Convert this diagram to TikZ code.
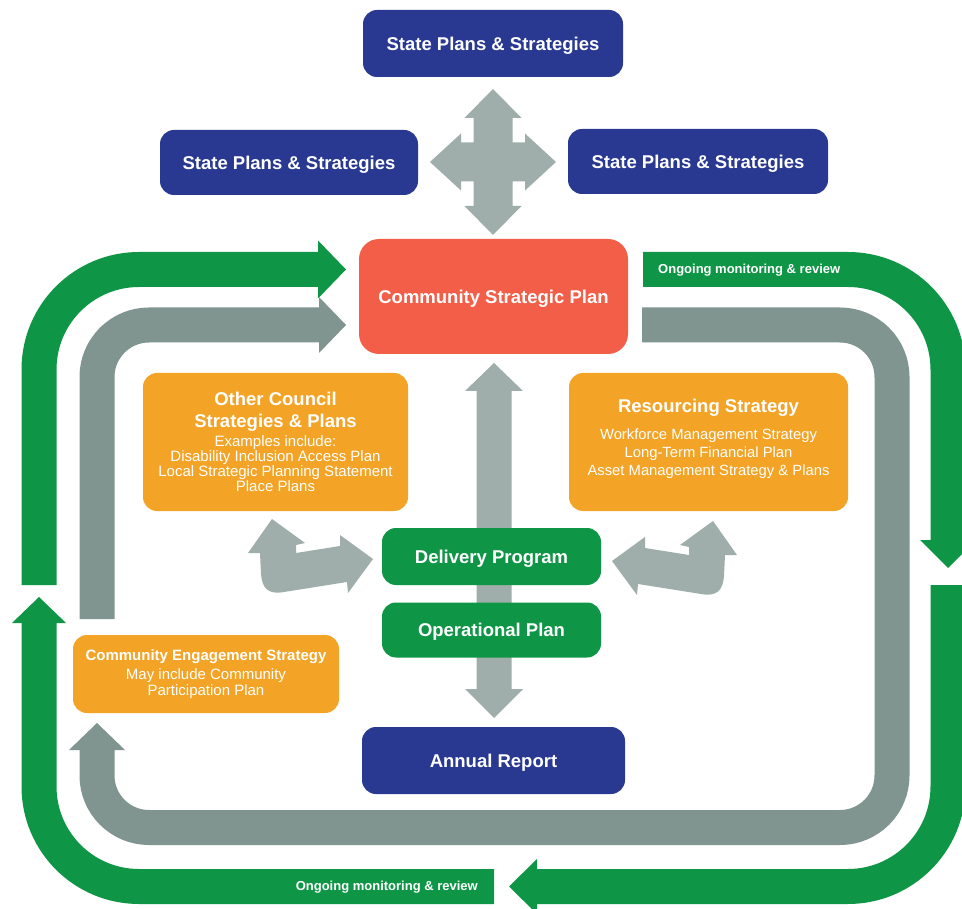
\documentclass[tikz,border=0pt]{standalone}
\usepackage{fontspec}
\setmainfont{Liberation Sans}
\definecolor{navy}{RGB}{41,57,145}
\definecolor{salmon}{RGB}{242,94,71}
\definecolor{orng}{RGB}{243,163,37}
\definecolor{grn}{RGB}{14,150,70}
\definecolor{bandgray}{RGB}{128,148,144}
\definecolor{lgray}{RGB}{159,174,170}
\newcommand{\mylsfix}{\lineskiplimit -100pt\relax}
\begin{document}
\begin{tikzpicture}[x=1pt,y=-1pt,
  box/.style={rounded corners=14pt, text=white, align=center, inner sep=0pt},
  titlebox/.style={box, font=\fontsize{18.5}{22}\selectfont\bfseries, text height=13.4pt, text depth=0pt},
  navybox/.style={titlebox, fill=navy},
  grnbox/.style={titlebox, fill=grn},
  orngbox/.style={box, fill=orng},
  gband/.style={draw=grn, line width=35pt, rounded corners=100pt},
  gyband/.style={draw=bandgray, line width=35pt, rounded corners=52pt},
  bandtext/.style={text=white, font=\fontsize{13}{15}\selectfont\bfseries, inner sep=0pt, text height=9.4pt, text depth=0pt},
]
\clip (0,0) rectangle (962,909);
\fill[white] (0,0) rectangle (962,909);

% ---------- green outer loop ----------
\draw[gband] (39,585) -- (39,269.5) -- (318,269.5);
\fill[grn] (318,240.5) -- (346,269.5) -- (318,298.5) -- cycle;
\draw[gband] (643,269.5) -- (948,269.5) -- (948,540);
\fill[grn] (920,540) -- (948,568) -- (976,540) -- cycle;
\draw[gband] (948,585) -- (948,886.5) -- (537,886.5);
\fill[grn] (537,859) -- (509,886.5) -- (537,914) -- cycle;
\draw[gband] (494,886.5) -- (39,886.5) -- (39,623);
\fill[grn] (12,623) -- (39,597) -- (66,623) -- cycle;
\node[bandtext, anchor=west] (mon1) at (658,268.5) {Ongoing monitoring \& review};
\node[bandtext, anchor=east] (mon2) at (478,886) {Ongoing monitoring \& review};

% ---------- gray inner loop ----------
\draw[gyband] (97,619) -- (97,325) -- (319,325);
\fill[bandgray] (319,297) -- (346,325) -- (319,353) -- cycle;
\draw[gyband] (642,325) -- (892,325) -- (892,827.5) -- (97,827.5) -- (97,750);
\fill[bandgray] (69,750) -- (97,723) -- (125,750) -- cycle;

% ---------- four-way arrow ----------
\fill[lgray] (493,89) -- (521.5,118) -- (512.5,118) -- (512.5,142.5) -- (525,142.5)
  -- (525,133.5) -- (556,162) -- (525,190.5) -- (525,181.5) -- (512.5,181.5)
  -- (512.5,206) -- (521.5,206) -- (493,235) -- (464.5,206) -- (473.5,206)
  -- (473.5,181.5) -- (461,181.5) -- (461,190.5) -- (430,162) -- (461,133.5)
  -- (461,142.5) -- (473.5,142.5) -- (473.5,118) -- (464.5,118) -- cycle;

% ---------- central vertical double arrow ----------
\fill[lgray] (494,363) -- (523,391) -- (511.5,391) -- (511.5,689) -- (523,689)
  -- (494,718) -- (465,689) -- (476.5,689) -- (476.5,391) -- (465,391) -- cycle;

% ---------- bent arrows ----------
\fill[lgray] (272,519) -- (305,543) -- (296,545) -- (296,553) -- (340,546)
  -- (340,535) -- (373,559) -- (348,593) -- (347,582) -- (284,592)
  .. controls (268,595) and (262,588) .. (261,574) -- (260,553) -- (248,553) -- cycle;
\begin{scope}[xshift=985pt, xscale=-1]
\fill[lgray] (272,521) -- (305,545) -- (296,547) -- (296,555) -- (340,548)
  -- (340,537) -- (373,561) -- (348,595) -- (347,584) -- (284,594)
  .. controls (268,597) and (262,590) .. (261,576) -- (260,555) -- (248,555) -- cycle;
\end{scope}

% ---------- boxes ----------
\node[navybox, minimum width=260pt, minimum height=67pt] (top) at (493,43.5) {State Plans \& Strategies};
\node[navybox, minimum width=258pt, minimum height=65pt] (sl) at (289,162.5) {State Plans \& Strategies};
\node[navybox, minimum width=260pt, minimum height=65pt] (sr) at (698,161.5) {State Plans \& Strategies};
\node[titlebox, fill=salmon, rounded corners=20pt, minimum width=269pt, minimum height=115pt] (csp) at (493.5,296.5) {Community Strategic Plan};

\node[orngbox, minimum width=265pt, minimum height=138pt,
  font={\fontsize{15}{15}\selectfont\mylsfix}] (occ) at (275.5,442)
  {{\fontsize{18.5}{15}\selectfont\bfseries Other Council}\\[6.5pt]
   {\fontsize{18.5}{15}\selectfont\bfseries Strategies \& Plans}\\[4pt]
   Examples include:\\
   Disability Inclusion Access Plan\\
   Local Strategic Planning Statement\\
   Place Plans};

\node[orngbox, minimum width=279pt, minimum height=138pt,
  font={\fontsize{14.8}{15}\selectfont\mylsfix}] (rs) at (708.5,442)
  {{\fontsize{18.5}{15}\selectfont\bfseries Resourcing Strategy}\\[11.5pt]
   Workforce Management Strategy\\[3pt]
   Long-Term Financial Plan\\[3pt]
   Asset Management Strategy \& Plans\\[-6pt]
   \mbox{}};

\node[orngbox, minimum width=266pt, minimum height=78pt,
  font={\fontsize{15}{16}\selectfont\mylsfix}] (ces) at (206,674)
  {{\bfseries Community Engagement Strategy}\\[3.5pt]
   May include Community\\
   Participation Plan};

\node[grnbox, minimum width=219pt, minimum height=57pt] (dp) at (491.5,556.5) {Delivery Program};
\node[grnbox, minimum width=219pt, minimum height=55pt] (op) at (491.5,630) {Operational Plan};
\node[navybox, minimum width=263pt, minimum height=67pt] (ar) at (493.5,760.5) {Annual Report};
\end{tikzpicture}
\end{document}
